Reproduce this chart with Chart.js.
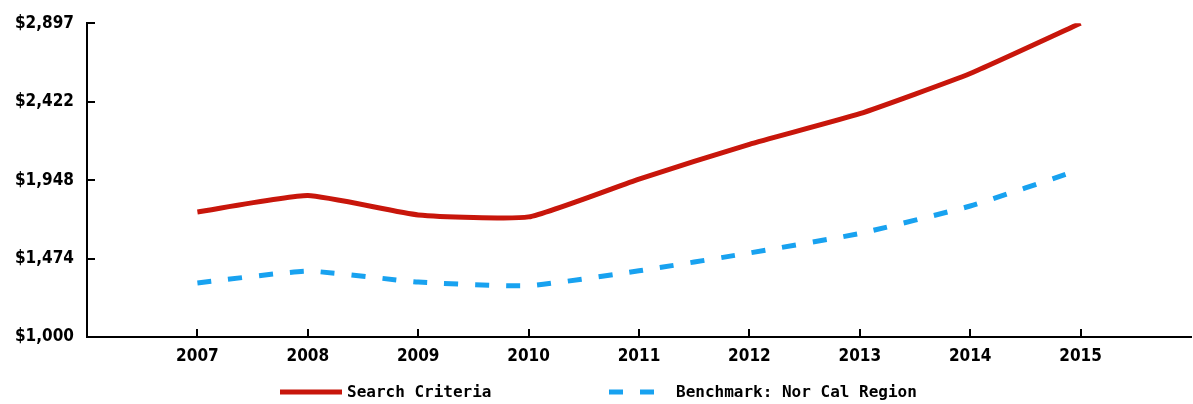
<!DOCTYPE html>
<html>
<head>
<meta charset="utf-8">
<script src="https://cdn.jsdelivr.net/npm/chart.js@4"></script>
<style>
  html, body { margin: 0; padding: 0; background: #fff; }
  #wrap { width: 1193px; height: 404px; }
</style>
</head>
<body>
<div id="wrap"><canvas id="myChart"></canvas></div>
<script>
const years = [2007, 2008, 2009, 2010, 2011, 2012, 2013, 2014, 2015];
const searchCriteria = [1756, 1855, 1738, 1726, 1955, 2165, 2350, 2593, 2897];
const benchmark = [1327, 1398, 1332, 1310, 1400, 1508, 1626, 1792, 2013];
const yTicks = [1000, 1474, 1948, 2422, 2897];
const seriesNames = ["Search Criteria", "Benchmark: Nor Cal Region"];

const RED = "#c8160b";
const BLUE = "#18a2f0";

const toPoints = (vals) => vals.map((v, i) => ({ x: years[i], y: v }));

// small tick marks pointing into the plot, plus the legend under the axis
const innerTicks = {
  id: "innerTicks",
  afterDraw(chart) {
    const { ctx, chartArea, scales } = chart;
    ctx.save();
    ctx.strokeStyle = "#000";
    ctx.lineWidth = 2;
    ctx.beginPath();
    yTicks.forEach((v) => {
      const y = Math.round(scales.y.getPixelForValue(v));
      ctx.moveTo(chartArea.left, y);
      ctx.lineTo(chartArea.left + 8, y);
    });
    years.forEach((yr) => {
      const x = Math.round(scales.x.getPixelForValue(yr));
      ctx.moveTo(x, chartArea.bottom);
      ctx.lineTo(x, chartArea.bottom - 8);
    });
    ctx.stroke();

    // legend
    const legendY = 392;
    const items = [
      { x: 280, w: 62, text: 347 },
      { x: 609, w: 62, text: 676 },
    ];
    ctx.font = "bold 16px 'DejaVu Sans Mono'";
    ctx.textBaseline = "middle";
    chart.data.datasets.forEach((ds, i) => {
      const it = items[i];
      ctx.strokeStyle = ds.borderColor;
      ctx.lineWidth = ds.borderWidth;
      ctx.setLineDash(ds.borderDash || []);
      ctx.beginPath();
      ctx.moveTo(it.x, legendY);
      ctx.lineTo(it.x + it.w, legendY);
      ctx.stroke();
      ctx.setLineDash([]);
      ctx.fillStyle = "#000";
      ctx.fillText(ds.label, it.text, legendY + 1);
    });
    ctx.restore();
  },
};

const ctx = document.getElementById("myChart").getContext("2d");

const tickFont = { family: "'DejaVu Sans Condensed', 'DejaVu Sans'", size: 17, weight: "bold" };

const myChart = new Chart(ctx, {
  type: "line",
  data: {
    datasets: [
      {
        label: seriesNames[0],
        data: toPoints(searchCriteria),
        borderColor: RED,
        borderWidth: 5,
        pointRadius: 0,
        tension: 0.15,
      },
      {
        label: seriesNames[1],
        data: toPoints(benchmark),
        borderColor: BLUE,
        borderWidth: 5,
        borderDash: [14, 17],
        pointRadius: 0,
        tension: 0.15,
      },
    ],
  },
  options: {
    responsive: true,
    maintainAspectRatio: false,
    animation: false,
    layout: { padding: { top: 21, right: 2, left: 0, bottom: 0 } },
    plugins: {
      legend: { display: false },
      tooltip: { enabled: false },
    },
    scales: {
      x: {
        type: "linear",
        min: 2006,
        max: 2016,
        grid: { display: false, drawTicks: false },
        border: { display: true, color: "#000", width: 2 },
        afterBuildTicks: (scale) => {
          scale.ticks = years.map((v) => ({ value: v }));
        },
        afterFit: (scale) => {
          scale.height = 67;
        },
        ticks: {
          padding: 9,
          color: "#000",
          font: tickFont,
          callback: (v) => String(v),
        },
      },
      y: {
        min: 1000,
        max: 2897,
        grid: { display: false, drawTicks: false },
        border: { display: true, color: "#000", width: 2 },
        afterBuildTicks: (scale) => {
          scale.ticks = yTicks.map((v) => ({ value: v }));
        },
        afterFit: (scale) => {
          scale.width = 87;
        },
        ticks: {
          padding: 13,
          color: "#000",
          font: tickFont,
          callback: (v) => "$" + v.toLocaleString("en-US"),
        },
      },
    },
  },
  plugins: [innerTicks],
});
</script>
</body>
</html>
